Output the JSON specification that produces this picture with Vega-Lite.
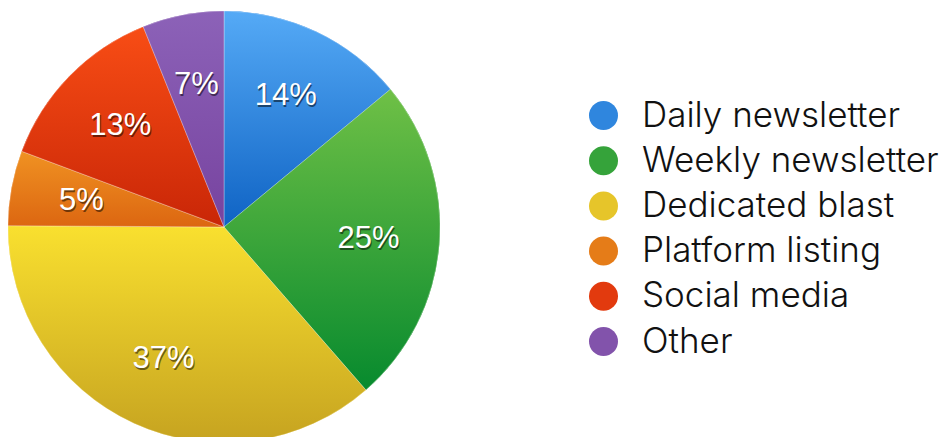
{
  "$schema": "https://vega.github.io/schema/vega-lite/v6.json",
  "autosize": {"type": "pad"},
  "padding": 0,
  "width": 448,
  "height": 454,
  "background": "white",
  "data": {
    "values": [
      {"source": "Daily newsletter", "share": 14.0, "label": "14%", "rank": 1},
      {"source": "Weekly newsletter", "share": 24.6, "label": "25%", "rank": 2},
      {"source": "Dedicated blast", "share": 36.5, "label": "37%", "rank": 3},
      {"source": "Platform listing", "share": 5.6, "label": "5%", "rank": 4},
      {"source": "Social media", "share": 13.2, "label": "13%", "rank": 5},
      {"source": "Other", "share": 6.1, "label": "7%", "rank": 6}
    ]
  },
  "transform": [
    {"stack": "share", "groupby": [], "sort": [{"field": "rank", "order": "ascending"}], "as": ["s0", "s1"]}
  ],
  "layer": [
    {
      "mark": {"type": "arc", "radius": 216},
      "encoding": {
        "theta": {"field": "s0", "type": "quantitative", "stack": null, "scale": {"domain": [0, 100]}},
        "theta2": {"field": "s1"},
        "color": {
          "field": "source",
          "type": "nominal",
          "scale": {
            "domain": ["Daily newsletter", "Weekly newsletter", "Dedicated blast", "Platform listing", "Social media", "Other"],
            "range": ["#2f86de", "#35a33a", "#e6c52a", "#e57c18", "#e23a0e", "#8253ab"]
          },
          "legend": {
            "title": null,
            "orient": "none",
            "legendX": 586,
            "legendY": 98,
            "symbolType": "circle",
            "symbolSize": 841,
            "symbolStrokeWidth": 0,
            "labelFont": "Inter",
            "labelFontWeight": 300,
            "labelFontSize": 35,
            "labelColor": "#111111",
            "labelOffset": 21,
            "rowPadding": 9.2,
            "labelLimit": 400
          }
        }
      }
    },
    {
      "transform": [{"filter": "datum.rank == 1"}],
      "mark": {"type": "arc", "radius": 216, "stroke": "#ffffff", "strokeWidth": 0.6, "strokeOpacity": 0.5,
        "color": {"gradient": "linear", "x1": 0, "y1": 0, "x2": 0, "y2": 1, "stops": [{"offset": 0, "color": "#55aaf6"}, {"offset": 1, "color": "#0f63c4"}]}},
      "encoding": {"theta": {"field": "s0", "type": "quantitative", "stack": null}, "theta2": {"field": "s1"}}
    },
    {
      "transform": [{"filter": "datum.rank == 2"}],
      "mark": {"type": "arc", "radius": 216, "stroke": "#ffffff", "strokeWidth": 0.6, "strokeOpacity": 0.5,
        "color": {"gradient": "linear", "x1": 0, "y1": 0, "x2": 0, "y2": 1, "stops": [{"offset": 0, "color": "#6fc046"}, {"offset": 1, "color": "#078a2e"}]}},
      "encoding": {"theta": {"field": "s0", "type": "quantitative", "stack": null}, "theta2": {"field": "s1"}}
    },
    {
      "transform": [{"filter": "datum.rank == 3"}],
      "mark": {"type": "arc", "radius": 216, "stroke": "#ffffff", "strokeWidth": 0.6, "strokeOpacity": 0.5,
        "color": {"gradient": "linear", "x1": 0, "y1": 0, "x2": 0, "y2": 1, "stops": [{"offset": 0, "color": "#f9e02f"}, {"offset": 1, "color": "#c6a320"}]}},
      "encoding": {"theta": {"field": "s0", "type": "quantitative", "stack": null}, "theta2": {"field": "s1"}}
    },
    {
      "transform": [{"filter": "datum.rank == 4"}],
      "mark": {"type": "arc", "radius": 216, "stroke": "#ffffff", "strokeWidth": 0.6, "strokeOpacity": 0.5,
        "color": {"gradient": "linear", "x1": 0, "y1": 0, "x2": 0, "y2": 1, "stops": [{"offset": 0, "color": "#f09222"}, {"offset": 1, "color": "#dc6611"}]}},
      "encoding": {"theta": {"field": "s0", "type": "quantitative", "stack": null}, "theta2": {"field": "s1"}}
    },
    {
      "transform": [{"filter": "datum.rank == 5"}],
      "mark": {"type": "arc", "radius": 216, "stroke": "#ffffff", "strokeWidth": 0.6, "strokeOpacity": 0.5,
        "color": {"gradient": "linear", "x1": 0, "y1": 0, "x2": 0, "y2": 1, "stops": [{"offset": 0, "color": "#f84d15"}, {"offset": 1, "color": "#c92607"}]}},
      "encoding": {"theta": {"field": "s0", "type": "quantitative", "stack": null}, "theta2": {"field": "s1"}}
    },
    {
      "transform": [{"filter": "datum.rank == 6"}],
      "mark": {"type": "arc", "radius": 216, "stroke": "#ffffff", "strokeWidth": 0.6, "strokeOpacity": 0.5,
        "color": {"gradient": "linear", "x1": 0, "y1": 0, "x2": 0, "y2": 1, "stops": [{"offset": 0, "color": "#8c62b8"}, {"offset": 1, "color": "#77439f"}]}},
      "encoding": {"theta": {"field": "s0", "type": "quantitative", "stack": null}, "theta2": {"field": "s1"}}
    },
    {
      "mark": {"type": "text", "radius": 145, "font": "Liberation Sans", "fontSize": 31, "color": "#000000", "opacity": 0.5, "dx": 1, "dy": 2, "baseline": "middle", "align": "center"},
      "encoding": {
        "theta": {"field": "share", "type": "quantitative", "stack": true},
        "order": {"field": "rank", "type": "quantitative"},
        "text": {"field": "label"}
      }
    },
    {
      "mark": {"type": "text", "radius": 145, "font": "Liberation Sans", "fontSize": 31, "color": "#ffffff", "baseline": "middle", "align": "center"},
      "encoding": {
        "theta": {"field": "share", "type": "quantitative", "stack": true},
        "order": {"field": "rank", "type": "quantitative"},
        "text": {"field": "label"}
      }
    }
  ]
}
